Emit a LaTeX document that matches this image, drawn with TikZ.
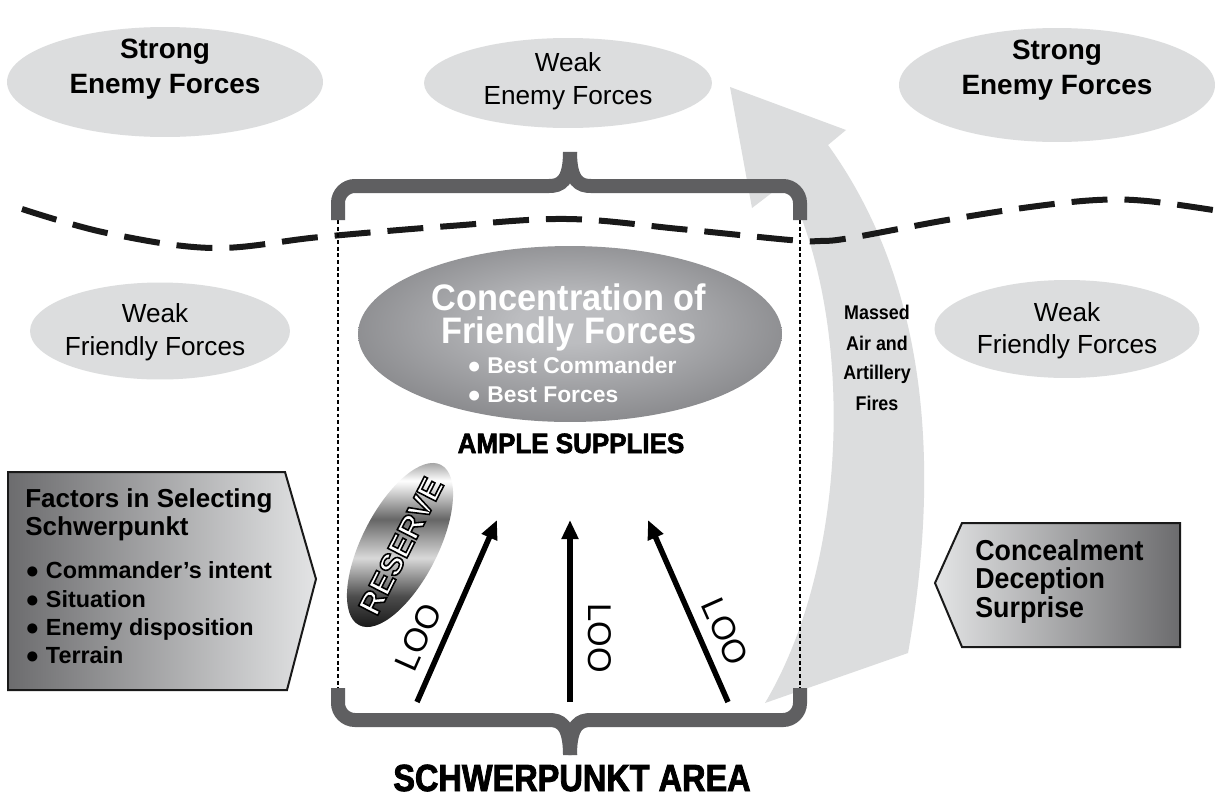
\documentclass[tikz,border=0pt]{standalone}
\usepackage{fontspec}
\setmainfont{Liberation Sans}
\newfontfamily\hvyS{Liberation Sans}[FakeBold=2.2,FakeStretch=0.86]
\newfontfamily\hvyA{Liberation Sans}[FakeBold=2.2,FakeStretch=0.93]
\newfontfamily\outl{Liberation Sans}[FakeBold=5]
\newfontfamily\condB{Liberation Sans}[FakeStretch=0.93]
\newfontfamily\massB{Liberation Sans}[FakeStretch=0.9]
\usetikzlibrary{shapes.geometric,arrows.meta}
\definecolor{lgray}{HTML}{DCDDDE}
\definecolor{brc}{HTML}{5F5F61}
\definecolor{cin}{HTML}{BCBDC0}
\definecolor{cout}{HTML}{545457}
\definecolor{fdark}{HTML}{6C6C6E}
\definecolor{flight}{HTML}{E3E4E5}
\pgfdeclareradialshading{concsh}{\pgfpoint{0bp}{4bp}}{color(0bp)=(cin); color(6bp)=(cin); color(50bp)=(cout)}
\pgfdeclareverticalshading{metal}{100bp}{color(0bp)=(black!45); color(10bp)=(white); color(22bp)=(black!95); color(34bp)=(black!70); color(46bp)=(white!85!black); color(58bp)=(black!60); color(70bp)=(white); color(82bp)=(black!75); color(92bp)=(white!70!black); color(100bp)=(black!60)}
\newcommand\setfs[1]{\fontsize{#1}{#1}\selectfont}
\begin{document}
\begin{tikzpicture}[x=0.02cm,y=-0.02cm,
  lbl/.style={inner sep=0pt, anchor=base},
  lblw/.style={inner sep=0pt, anchor=base west},
  gell/.style={ellipse, fill=lgray, inner sep=0pt},
  brace/.style={draw=brc, line width=0.28cm, rounded corners=0.34cm},
  dotline/.style={draw=black, line width=1pt, dash pattern=on 2.2pt off 1.6pt},
  wave/.style={draw=black!90, line width=0.12cm, dash pattern=on 0.72cm off 0.34cm},
  loo/.style={draw=black, line width=0.11cm, -{Triangle[length=0.38cm,width=0.32cm]}},
  box/.style={draw=black!90, line width=0.04cm},
  strongf/.style={font=\bfseries\setfs{15.9pt}},
  weakf/.style={font=\setfs{14.9pt}},
  factf/.style={font=\bfseries\setfs{14.8pt}},
  factb/.style={font=\bfseries\setfs{13.3pt}},
  concf/.style={font=\condB\bfseries\setfs{16.4pt}},
  massf/.style={font=\massB\bfseries\setfs{11.3pt}},
  loof/.style={inner sep=0pt, font=\setfs{18.7pt}}]

\fill[white] (0,0) rectangle (1219,798);
\useasboundingbox (0,0) rectangle (1219,798);

% grey ellipses
\node[gell, minimum width=6.32cm, minimum height=2.2cm] (sel) at (165,82) {};
\node[gell, minimum width=6.32cm, minimum height=2.28cm] (ser) at (1057,85) {};
\node[gell, minimum width=5.76cm, minimum height=1.8cm] (wen) at (568,83) {};
\node[gell, minimum width=5.2cm, minimum height=1.94cm] (wfl) at (160,331) {};
\node[gell, minimum width=5.3cm, minimum height=1.96cm] (wfr) at (1067,329) {};

\node[lbl, strongf] (sel1) at (165,58) {Strong};
\node[lbl, strongf] (sel2) at (165,93) {Enemy Forces};
\node[lbl, strongf] (ser1) at (1057,59) {Strong};
\node[lbl, strongf] (ser2) at (1057,94) {Enemy Forces};
\node[lbl, weakf] (wen1) at (568,71) {Weak};
\node[lbl, weakf] (wen2) at (568,104) {Enemy Forces};
\node[lbl, weakf] (wfl1) at (155,322) {Weak};
\node[lbl, weakf] (wfl2) at (155,355) {Friendly Forces};
\node[lbl, weakf] (wfr1) at (1067,321) {Weak};
\node[lbl, weakf] (wfr2) at (1067,353) {Friendly Forces};

% big curved grey arrow (massed fires)
\fill[lgray] (765,703) -- (908,653) .. controls (935,500) and (940,300) .. (828,145)
  -- (846,130) -- (730,87) -- (752,208) -- (786,182)
  .. controls (855,320) and (850,560) .. (765,703) -- cycle;
\node[lbl, massf] (ms1) at (877,319) {Massed};
\node[lbl, massf] (ms2) at (877,350) {Air and};
\node[lbl, massf] (ms3) at (877,379) {Artillery};
\node[lbl, massf] (ms4) at (877,410) {Fires};

% wavy dashed line
\draw[wave] plot[smooth, tension=0.6] coordinates {(22,209) (107,233) (213,248) (320,237) (450,226) (567,219) (680,229) (790,240) (820,241) (850,238) (947,220) (1030,207) (1097,200) (1147,201) (1213,210)};

% dotted boundaries
\coordinate (d1t) at (338,220);
\coordinate (d1b) at (338,688);
\coordinate (d2t) at (800,220);
\coordinate (d2b) at (800,688);
\draw[dotline] (d1t) -- (d1b);
\draw[dotline] (d2t) -- (d2b);

% braces
\draw[brace] (d1t) -- (338,186) -- (532,186) .. controls (560,186) and (570,182) .. (570,152);
\draw[brace] (d2t) -- (800,186) -- (608,186) .. controls (580,186) and (570,182) .. (570,152);
\draw[brace] (d1b) -- (338,720) -- (532,720) .. controls (560,720) and (570,724) .. (570,755);
\draw[brace] (d2b) -- (800,720) -- (608,720) .. controls (580,720) and (570,724) .. (570,755);

% concentration ellipse
\node[ellipse, shade, shading=concsh, minimum width=8.48cm, minimum height=3.52cm, inner sep=0pt] (conc) at (570,334) {};
\node[lbl, text=white, font=\condB\bfseries\setfs{21pt}] (conc1) at (569,310) {Concentration of};
\node[lbl, text=white, font=\condB\bfseries\setfs{21pt}] (conc2) at (569,343) {Friendly Forces};
\node[lblw, text=white, font=\bfseries\setfs{13pt}] (conc3) at (467,373) {● Best Commander};
\node[lblw, text=white, font=\bfseries\setfs{13pt}] (conc4) at (467,402) {● Best Forces};

\node[lbl, font=\hvyA\bfseries\setfs{15.9pt}] (ample) at (571,453) {AMPLE SUPPLIES};
\node[lbl, font=\hvyS\bfseries\setfs{21.5pt}] (schw) at (572,791) {SCHWERPUNKT AREA};

% reserve
\shade[shading=metal, rotate around={63:(400,545)}] (400,545) ellipse [x radius=1.8cm, y radius=0.76cm];
\node[inner sep=0pt, rotate=63, text=white, font=\outl\bfseries\setfs{17.8pt}] (res) at (401,546) {\special{pdf:literal direct 0 G}RESERVE};

% lines of operation
\coordinate (t1) at (417,702);
\coordinate (h1) at (497,520);
\coordinate (t2) at (570,702);
\coordinate (h2) at (570,520);
\coordinate (t3) at (728,702);
\coordinate (h3) at (648,520);
\draw[loo] (t1) -- (h1);
\draw[loo] (t2) -- (h2);
\draw[loo] (t3) -- (h3);
\node[loof, rotate=66] (loo1) at (418,637) {LOO};
\node[loof, rotate=-90] (loo2) at (600,638) {LOO};
\node[loof, rotate=-66] (loo3) at (725,632) {LOO};

% factors box
\path[box, left color=fdark, right color=flight] (8,472) -- (285,472) -- (316,579) -- (287,690) -- (8,690) -- cycle;
\node[lblw, factf] (f1) at (25,507) {Factors in Selecting};
\node[lblw, factf] (f2) at (25,535) {Schwerpunkt};
\node[lblw, factb] (f3) at (25,578) {● Commander’s intent};
\node[lblw, factb] (f4) at (25,607) {● Situation};
\node[lblw, factb] (f5) at (25,635) {● Enemy disposition};
\node[lblw, factb] (f6) at (25,663) {● Terrain};

% concealment box
\path[box, left color=flight, right color=fdark] (935,583) -- (962,523) -- (1180,523) -- (1180,647) -- (962,647) -- cycle;
\node[lblw, concf] (c1) at (975,560) {Concealment};
\node[lblw, concf] (c2) at (975,588) {Deception};
\node[lblw, concf] (c3) at (975,617) {Surprise};
\end{tikzpicture}
\end{document}
